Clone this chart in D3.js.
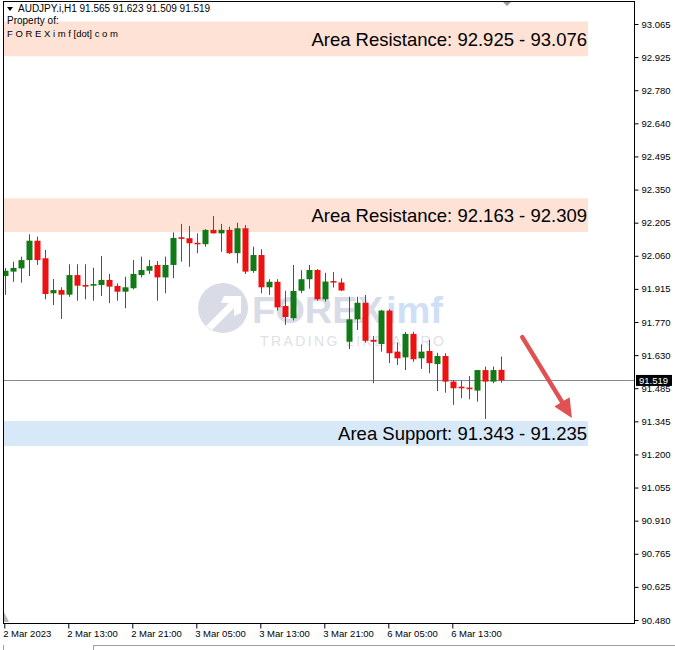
<!DOCTYPE html>
<html>
<head>
<meta charset="utf-8">
<script src="https://cdn.jsdelivr.net/npm/d3@7/dist/d3.min.js"></script>
<style>
  html, body { margin: 0; padding: 0; background: #fff; }
  svg { display: block; }
</style>
</head>
<body>
<svg id="chart" width="675" height="650"></svg>
<script>
// ---- DATA ----
const symbol = "AUDJPY.i,H1";
const lastOHLC = ["91.565", "91.623", "91.509", "91.519"];
const open  = [91.972,91.991,92.005,92.041,92.125,92.049,91.897,91.911,91.891,91.976,91.933,91.930,91.933,91.955,91.929,91.904,91.919,91.976,91.995,92.020,91.966,92.020,92.140,92.136,92.116,92.110,92.172,92.157,92.172,92.071,92.179,91.994,92.063,91.923,91.947,91.842,91.789,91.908,91.958,91.998,91.871,91.950,91.944,91.687,91.784,91.856,91.695,91.677,91.822,91.644,91.619,91.721,91.615,91.647,91.590,91.625,91.514,91.492,91.488,91.475,91.564,91.514,91.565];
const high  = [92.007,92.034,92.056,92.153,92.143,92.085,91.959,91.923,92.023,92.023,92.023,92.008,92.059,91.981,91.940,91.969,92.041,92.056,92.041,92.037,92.056,92.161,92.198,92.189,92.157,92.175,92.232,92.198,92.186,92.203,92.193,92.099,92.088,91.958,91.958,91.908,92.020,91.997,92.020,92.002,91.986,91.989,91.962,91.882,91.882,91.890,91.712,91.825,91.828,91.683,91.729,91.730,91.675,91.695,91.639,91.637,91.521,91.518,91.538,91.564,91.579,91.579,91.623];
const low   = [91.890,91.947,91.943,91.972,92.020,91.871,91.846,91.786,91.882,91.865,91.871,91.865,91.885,91.854,91.865,91.832,91.914,91.966,91.981,91.865,91.897,91.963,92.034,92.012,92.071,92.099,92.157,92.077,92.068,92.027,91.981,91.986,91.897,91.890,91.822,91.760,91.779,91.898,91.917,91.865,91.861,91.922,91.907,91.655,91.738,91.683,91.507,91.644,91.594,91.586,91.564,91.600,91.569,91.550,91.473,91.466,91.413,91.442,91.437,91.427,91.352,91.507,91.509];
const close = [91.995,92.007,92.041,92.125,92.041,91.894,91.911,91.891,91.976,91.930,91.926,91.937,91.955,91.926,91.904,91.923,91.981,91.998,92.015,91.966,92.020,92.137,92.133,92.114,92.110,92.172,92.157,92.172,92.071,92.179,91.991,92.063,91.923,91.947,91.836,91.794,91.907,91.958,91.998,91.871,91.948,91.945,91.909,91.784,91.856,91.691,91.687,91.822,91.637,91.615,91.721,91.611,91.644,91.594,91.625,91.514,91.485,91.485,91.481,91.564,91.514,91.564,91.519];
const xTickIndex  = [0, 8, 16, 24, 32, 40, 48, 56];
const xTickLabels = ["2 Mar 2023","2 Mar 13:00","2 Mar 21:00","3 Mar 05:00","3 Mar 13:00","3 Mar 21:00","6 Mar 05:00","6 Mar 13:00"];
const yTickLabels = ["90.480","90.625","90.765","90.910","91.055","91.200","91.345","91.485","91.630","91.770","91.915","92.060","92.205","92.350","92.495","92.640","92.780","92.925","93.065"];
const yMin = 90.480, yMax = 93.065;
const currentPrice = 91.519;
const zonesLow  = [92.925, 92.163, 91.235];
const zonesHigh = [93.076, 92.309, 91.343];
const zoneLabels = ["Area Resistance: 92.925 - 93.076","Area Resistance: 92.163 - 92.309","Area Support: 91.343 - 91.235"];
const zoneKinds = ["res","res","sup"];
const arrowFrom = [64.7, 91.707];   // [bar index, price]
const arrowTo   = [70.9, 91.356];

// ---- LAYOUT ----
const svg = d3.select("#chart");
const L = 3, R = 634, T = 1, B = 623;
const FONT = "'Liberation Sans', Arial, sans-serif";
const GREEN = "#117a17", RED = "#ee1111";

const x = d3.scaleLinear().domain([0, 62]).range([4.7, 500.7]);
const y = d3.scaleLinear().domain([yMin, yMax]).range([620, 24]);

const plot = svg.append("g");
svg.append("defs").append("clipPath").attr("id", "clip")
  .append("rect").attr("x", L + 0.5).attr("y", T).attr("width", R - L - 0.5).attr("height", B - T);
plot.attr("clip-path", "url(#clip)");

// zones
const zoneColor = { res: "#fde2d5", sup: "#d7e8f8" };
zonesLow.forEach((lo, i) => {
  plot.append("rect")
    .attr("x", L).attr("width", 588 - L)
    .attr("y", y(zonesHigh[i])).attr("height", y(lo) - y(zonesHigh[i]))
    .attr("fill", zoneColor[zoneKinds[i]]);
});

// watermark
const wm = plot.append("g");
wm.append("circle").attr("cx", 223).attr("cy", 308).attr("r", 25).attr("fill", "#d9dce6");
wm.append("path")
  .attr("d", "M206,326 L229,303 L221,303 L224,296 L241,296 L241,313 L234,316 L234,308 L212,330 Z")
  .attr("fill", "#fff");
wm.append("text").attr("x", 252).attr("y", 323)
  .attr("font-family", FONT).attr("font-weight", "bold").attr("font-size", 36)
  .attr("fill", "#d9dce6").attr("textLength", 131).attr("lengthAdjust", "spacingAndGlyphs").text("FOREX");
wm.append("text").attr("x", 386).attr("y", 323)
  .attr("font-family", FONT).attr("font-weight", "bold").attr("font-size", 36)
  .attr("fill", "#cfe0f6").attr("textLength", 57).attr("lengthAdjust", "spacingAndGlyphs").text("imf");
wm.append("text").attr("x", 260).attr("y", 346)
  .attr("font-family", FONT).attr("font-size", 14)
  .attr("fill", "#dfe1e7").attr("textLength", 184).attr("lengthAdjust", "spacing").text("TRADING LIKE A PRO");

// current price line
plot.append("line")
  .attr("x1", L).attr("x2", R).attr("y1", Math.round(y(currentPrice)) + 0.5).attr("y2", Math.round(y(currentPrice)) + 0.5)
  .attr("stroke", "#7f8d9a").attr("stroke-width", 1);

// candles
const bars = d3.range(open.length).map(i => ({ i, o: open[i], h: high[i], l: low[i], c: close[i] }));
const cg = plot.append("g");
bars.forEach(d => {
  const col = d.c >= d.o ? GREEN : RED;
  const cx = Math.round(x(d.i)) + 0.5;
  cg.append("line").attr("x1", cx).attr("x2", cx).attr("y1", y(d.h)).attr("y2", y(d.l))
    .attr("stroke", col).attr("stroke-width", 1);
  const top = y(Math.max(d.o, d.c)), bot = y(Math.min(d.o, d.c));
  cg.append("rect").attr("x", cx - 3).attr("width", 6)
    .attr("y", top).attr("height", Math.max(1.5, bot - top)).attr("fill", col);
});

// zone labels
zoneLabels.forEach((t, i) => {
  const mid = (y(zonesLow[i]) + y(zonesHigh[i])) / 2;
  plot.append("text").attr("x", 587).attr("y", mid + 7)
    .attr("text-anchor", "end").attr("font-family", FONT).attr("font-size", 18.5)
    .attr("fill", "#000").text(t);
});

// header
const hdr = svg.append("g").attr("font-family", FONT).attr("font-size", 10).attr("fill", "#000");
hdr.append("path").attr("d", "M7,7 L13,7 L10,11 Z").attr("fill", "#000");
hdr.append("text").attr("x", 18).attr("y", 12).text(symbol + "  " + lastOHLC.join(" "));
hdr.append("text").attr("x", 7).attr("y", 23.5).text("Property of:");
hdr.append("text").attr("x", 7).attr("y", 36.5).attr("font-size", 9.5).text("F O R E X i m f [dot] c o m");

// arrow
const ax1 = x(arrowFrom[0]), ay1 = y(arrowFrom[1]), ax2 = x(arrowTo[0]), ay2 = y(arrowTo[1]);
const dx = ax2 - ax1, dy = ay2 - ay1, len = Math.hypot(dx, dy), ux = dx / len, uy = dy / len;
const hl = 19, hw = 9;
const bx = ax2 - ux * hl, by = ay2 - uy * hl;
svg.append("line").attr("x1", ax1).attr("y1", ay1).attr("x2", bx + ux * 3).attr("y2", by + uy * 3)
  .attr("stroke", "#e05252").attr("stroke-width", 4.5).attr("stroke-linecap", "round");
svg.append("path")
  .attr("d", `M${ax2},${ay2} L${bx - uy * hw},${by + ux * hw} L${bx + uy * hw},${by - ux * hw} Z`)
  .attr("fill", "#e05252");

// frame
const fr = svg.append("g").attr("stroke", "#000").attr("stroke-width", 1);
fr.append("line").attr("x1", L + 0.5).attr("x2", L + 0.5).attr("y1", T).attr("y2", B + 0.5);
fr.append("line").attr("x1", R + 0.5).attr("x2", R + 0.5).attr("y1", T).attr("y2", B + 0.5);
fr.append("line").attr("x1", L).attr("x2", R + 1).attr("y1", B + 0.5).attr("y2", B + 0.5);
fr.append("line").attr("x1", L).attr("x2", R + 1).attr("y1", T + 0.5).attr("y2", T + 0.5);
svg.append("path").attr("d", "M503,2 L511,2 L507,6 Z").attr("fill", "#9a9a9a");
svg.append("path").attr("d", "M4,612 L4,622 L9,622 Z").attr("fill", "#b8b8b8");

// y axis
const yTickValues = yTickLabels.map((_, k) => yMin + k * (yMax - yMin) / (yTickLabels.length - 1));
const yAxis = d3.axisRight(y).tickValues(yTickValues).tickSize(4).tickPadding(3)
  .tickFormat((d, i) => yTickLabels[i]);
const yg = svg.append("g").attr("transform", `translate(${R + 0.5},0)`).call(yAxis);
yg.select(".domain").remove();
yg.selectAll("text").attr("font-family", FONT).attr("font-size", 9.5).attr("fill", "#000");
yg.selectAll("line").attr("stroke", "#000");

// current price tag
const cy = y(currentPrice);
svg.append("rect").attr("x", 636).attr("y", cy - 5.5).attr("width", 36).attr("height", 11).attr("fill", "#000");
svg.append("text").attr("x", 639).attr("y", cy + 3.5).attr("font-family", FONT).attr("font-size", 9.5)
  .attr("fill", "#fff").text(currentPrice.toFixed(3));

// x axis
const xAxis = d3.axisBottom(x).tickValues(xTickIndex).tickSize(5).tickPadding(2)
  .tickFormat((d, i) => xTickLabels[i]);
const xg = svg.append("g").attr("transform", `translate(0,${B + 0.5})`).call(xAxis);
xg.select(".domain").remove();
xg.selectAll(".tick line").attr("stroke", "#000").attr("transform", "translate(-0.4,0)");
xg.selectAll("text").attr("font-family", FONT).attr("font-size", 9.5).attr("fill", "#000")
  .attr("text-anchor", "start").attr("dx", -2);

// bottom window chrome
svg.append("line").attr("x1", 93).attr("x2", 675).attr("y1", 645.5).attr("y2", 645.5).attr("stroke", "#a0a0a0");
svg.append("line").attr("x1", 93.5).attr("x2", 93.5).attr("y1", 645).attr("y2", 650).attr("stroke", "#a0a0a0");
svg.append("line").attr("x1", 3.5).attr("x2", 3.5).attr("y1", 645).attr("y2", 650).attr("stroke", "#a0a0a0");
</script>
</body>
</html>
